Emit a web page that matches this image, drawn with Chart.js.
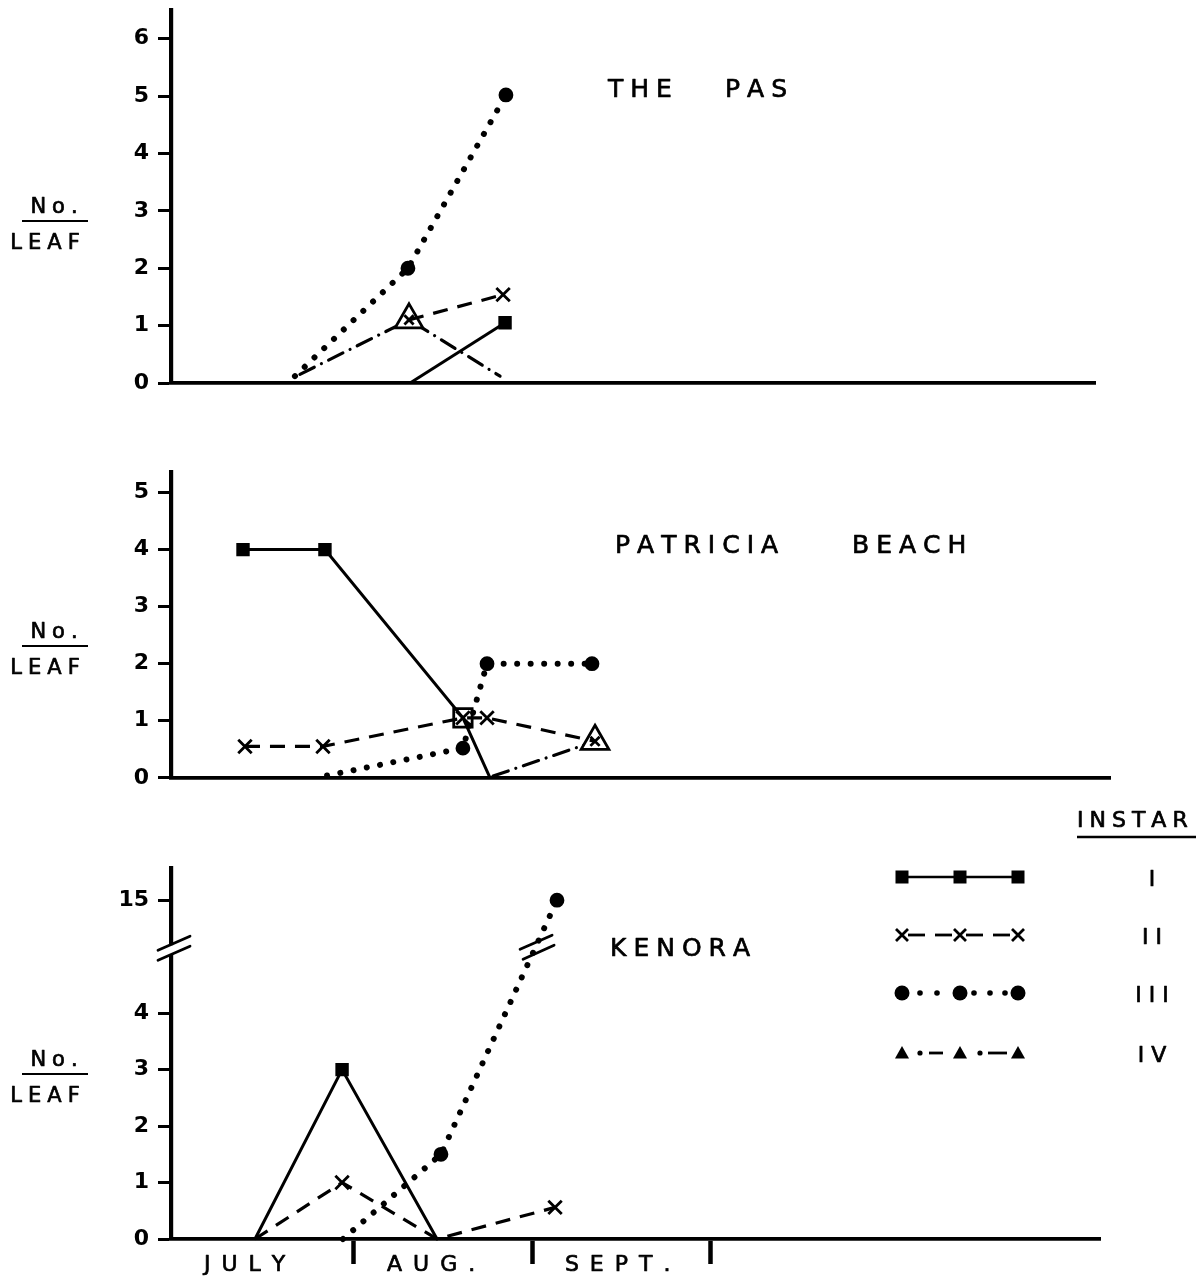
<!DOCTYPE html>
<html><head><meta charset="utf-8">
<script src="https://cdn.jsdelivr.net/npm/chart.js@4.4.1/dist/chart.umd.min.js"></script>
<style>
html,body{margin:0;padding:0;background:#fff;}
#wrap{position:relative;width:1201px;height:1278px;overflow:hidden;background:#fff;}
canvas{position:absolute;left:0;}
</style></head><body>
<div id="wrap">
<canvas id="c1" width="1201" height="450" style="top:-20px"></canvas>
<canvas id="c2" width="1201" height="360" style="top:440px"></canvas>
<canvas id="c3" width="1201" height="488" style="top:790px"></canvas>
</div>
<script>
// ---------------- DATA ----------------
const sites   = ['THE PAS', 'PATRICIA BEACH', 'KENORA'];
const months  = ['JULY', 'AUG.', 'SEPT.'];
const instars = ['I', 'II', 'III', 'IV'];
const yLabelTop = 'No.', yLabelBottom = 'LEAF';
const legendTitle = 'INSTAR';

const pasTicks = [0, 1, 2, 3, 4, 5, 6];
const patTicks = [0, 1, 2, 3, 4, 5];
const kenTicks = [0, 1, 2, 3, 4, 15];

// x = months after 1 July ; y = number per leaf
const pasI_x   = [1.317, 1.849];         const pasI_y   = [0, 1.05];
const pasII_x  = [1.311, 1.838];         const pasII_y  = [1.1, 1.54];
const pasIII_x = [0.672, 1.305, 1.854];  const pasIII_y = [0.12, 2.0, 5.02];
const pasIV_x  = [0.70, 1.311, 1.821];   const pasIV_y  = [0.15, 1.1, 0.12];

const patI_x   = [0.381, 0.840, 1.613, 1.765];         const patI_y   = [4, 4, 1.05, 0];
const patII_x  = [0.392, 0.829, 1.613, 1.748, 2.353];  const patII_y  = [0.55, 0.55, 1.05, 1.05, 0.64];
const patIII_x = [0.852, 1.613, 1.748, 2.336];         const patIII_y = [0.04, 0.52, 2.0, 2.0];
const patIV_x  = [1.782, 2.353];                       const patIV_y  = [0.03, 0.64];

const kenI_x   = [0.448, 0.936, 1.468];         const kenI_y   = [0, 3.0, 0];
const kenII_x  = [0.448, 0.936, 1.468, 2.129];  const kenII_y  = [0, 1.0, 0, 0.56];
const kenIII_x = [0.941, 1.490, 2.140];         const kenIII_y = [0, 1.5, 15];

// ---------------- STYLE ----------------
const FONT = '"DejaVu Sans", "Liberation Sans", sans-serif';
Chart.defaults.font.family = FONT;
Chart.defaults.color = '#000';

const M = {
  none:   {style: 'circle',   r: 0,   fill: '#000'},
  sq:     {style: 'rect',     r: 7.5, fill: '#000'},
  sqOpen: {style: 'rect',     r: 13,  fill: 'rgba(0,0,0,0)'},
  x:      {style: 'crossRot', r: 9.5, fill: '#000'},
  xs:     {style: 'crossRot', r: 6.5, fill: '#000'},
  dot:    {style: 'circle',   r: 6,   fill: '#000'},
  tri:    {style: 'triangle', r: 16,  fill: '#fff'}
};
const LINE = [
  {borderWidth: 3,   borderDash: []},
  {borderWidth: 3.2, borderDash: [15, 10]},
  {borderWidth: 6,   borderDash: [0.001, 13.5], borderCapStyle: 'round'},
  {borderWidth: 3.2, borderDash: [16, 8, 0.001, 8], borderCapStyle: 'round'}
];

function ds(k, xs, ys, marks, tf) {
  const f = tf || (v => v);
  return Object.assign({
    label: instars[k],
    data: xs.map((x, i) => ({x: x, y: f(ys[i])})),
    borderColor: '#000',
    pointStyle: marks.map(m => M[m].style),
    pointRadius: marks.map(m => M[m].r),
    pointBackgroundColor: marks.map(m => M[m].fill),
    pointBorderColor: '#000',
    pointBorderWidth: 2.8,
    pointHoverRadius: marks.map(m => M[m].r),
    tension: 0, fill: false, clip: false, spanGaps: true
  }, LINE[k]);
}

function spacedText(ctx, s, x, y, size, sp, align) {
  ctx.save();
  ctx.font = size + 'px ' + FONT;
  ctx.fillStyle = '#000';
  ctx.strokeStyle = '#000';
  ctx.lineWidth = 0.7;
  ctx.lineJoin = 'round';
  ctx.textBaseline = 'alphabetic';
  ctx.textAlign = 'left';
  const chars = [...s];
  const ws = chars.map(ch => ctx.measureText(ch).width);
  const w = ws.reduce((a, b) => a + b, 0) + sp * (chars.length - 1);
  let cx = align === 'center' ? x - w / 2 : align === 'right' ? x - w : x;
  chars.forEach((ch, i) => { ctx.fillText(ch, cx, y); ctx.strokeText(ch, cx, y); cx += ws[i] + sp; });
  ctx.restore();
}

function drawYLabel(ctx, lineY) {
  spacedText(ctx, yLabelTop, 54, lineY - 8, 21, 6, 'center');
  ctx.save(); ctx.strokeStyle = '#000'; ctx.lineWidth = 2.2;
  ctx.beginPath(); ctx.moveTo(22, lineY); ctx.lineTo(88, lineY); ctx.stroke(); ctx.restore();
  spacedText(ctx, yLabelBottom, 45, lineY + 28, 21, 6, 'center');
}

function drawTitle(ctx, title, xs, y) {
  title.split(' ').forEach((w, i) => spacedText(ctx, w, xs[i], y, 25, 7, 'left'));
}

function makeChart(id, o) {
  const H = document.getElementById(id).height;
  const tf = o.tf || (v => v);
  return new Chart(document.getElementById(id), {
    type: 'line',
    data: {datasets: o.datasets},
    options: {
      responsive: false, animation: false, events: [],
      layout: {padding: {left: 0, right: 1201 - o.right, top: o.top, bottom: 0}},
      plugins: {legend: {display: false}, tooltip: {enabled: false}},
      scales: {
        x: {
          type: 'linear', min: o.xmin, max: o.xmax,
          afterBuildTicks: s => { if (o.monthTicks) s.ticks = [1, 2, 3].map(v => ({value: v})); },
          ticks: {display: false},
          grid: o.monthTicks
            ? {display: true, drawOnChartArea: false, drawTicks: true, tickLength: 25, tickWidth: 4.5, tickColor: '#000'}
            : {display: false},
          border: {display: true, color: '#000', width: 3.8},
          afterFit: s => { s.height = H - o.bottom; }
        },
        y: {
          type: 'linear', min: 0, max: o.ymax,
          afterBuildTicks: s => { s.ticks = o.ticks.map(v => ({value: tf(v)})); },
          ticks: {font: {size: 22, family: FONT, weight: 'bold'}, color: '#000', padding: 9,
                  callback: (v, i) => String(o.ticks[i])},
          grid: {display: true, drawOnChartArea: false, drawTicks: true, tickLength: 13, tickWidth: 3, tickColor: '#000'},
          border: {display: true, color: '#000', width: 4.2},
          afterFit: s => { s.width = 171; }
        }
      }
    },
    plugins: [{id: 'deco_' + id, afterDraw: c => o.deco(c)}]
  });
}

// x pixel = 175 + 178.5 * month  ->  axis limits
// ---------------- THE PAS ----------------
makeChart('c1', {
  top: 30, bottom: 403, right: 1095, xmin: -0.0224, xmax: 5.154, ymax: 6.5, ticks: pasTicks,
  datasets: [
    ds(0, pasI_x, pasI_y, ['none', 'sq']),
    ds(1, pasII_x, pasII_y, ['xs', 'x']),
    ds(2, pasIII_x, pasIII_y, ['none', 'dot', 'dot']),
    ds(3, pasIV_x, pasIV_y, ['none', 'tri', 'none'])
  ],
  deco: c => {
    drawTitle(c.ctx, sites[0], [608, 725], 117);
    drawYLabel(c.ctx, 241);
  }
});

// ---------------- PATRICIA BEACH ----------------
makeChart('c2', {
  top: 32, bottom: 342, right: 1110, xmin: -0.0224, xmax: 5.238, ymax: 5.36, ticks: patTicks,
  datasets: [
    ds(0, patI_x, patI_y, ['sq', 'sq', 'sqOpen', 'none']),
    ds(1, patII_x, patII_y, ['x', 'x', 'x', 'x', 'xs']),
    ds(2, patIII_x, patIII_y, ['none', 'dot', 'dot', 'dot']),
    ds(3, patIV_x, patIV_y, ['none', 'tri'])
  ],
  deco: c => {
    drawTitle(c.ctx, sites[1], [615, 852], 113);
    drawYLabel(c.ctx, 206);
  }
});

// ---------------- KENORA ----------------
const kenTf = v => (v > 5 ? v - 9 : v);   // broken axis: 15 drawn one step above 5
const BREAK = 5.15;
makeChart('c3', {
  top: 78, bottom: 449, right: 1100, xmin: -0.0224, xmax: 5.182, ymax: 6.57, ticks: kenTicks, tf: kenTf,
  monthTicks: true,
  datasets: [
    ds(0, kenI_x, kenI_y, ['none', 'sq', 'none'], kenTf),
    ds(1, kenII_x, kenII_y, ['none', 'x', 'none', 'x'], kenTf),
    ds(2, kenIII_x, kenIII_y, ['none', 'dot', 'dot'], kenTf)
  ],
  deco: c => {
    const ctx = c.ctx, xs = c.scales.x, ys = c.scales.y;
    drawTitle(ctx, sites[2], [610], 166);
    drawYLabel(ctx, 284);
    // month labels (centred a little left of mid-month, drifting right as in the original lettering)
    months.forEach((m, i) => spacedText(ctx, m, xs.getPixelForValue(i + 0.39 + 0.045 * i), 481, 22, 11, 'center'));
    // axis break
    const ax = c.chartArea.left, by = ys.getPixelForValue(BREAK);
    ctx.save();
    ctx.fillStyle = '#fff'; ctx.fillRect(ax - 4, by - 3, 8, 9);
    ctx.strokeStyle = '#000'; ctx.lineWidth = 2.8; ctx.lineCap = 'round';
    ctx.beginPath();
    ctx.moveTo(ax - 13, by + 2); ctx.lineTo(ax + 19, by - 12);
    ctx.moveTo(ax - 13, by + 12); ctx.lineTo(ax + 19, by - 2);
    ctx.stroke();
    // break on the instar III line
    const n = kenIII_y.length;
    const d1 = kenTf(kenIII_y[n - 2]), d2 = kenTf(kenIII_y[n - 1]);
    const t = (BREAK - d1) / (d2 - d1);
    const bx = xs.getPixelForValue(kenIII_x[n - 2] + t * (kenIII_x[n - 1] - kenIII_x[n - 2]));
    const by2 = ys.getPixelForValue(BREAK);
    ctx.beginPath();
    ctx.moveTo(bx - 15, by2 + 1); ctx.lineTo(bx + 17, by2 - 13);
    ctx.moveTo(bx - 12, by2 + 11); ctx.lineTo(bx + 19, by2 - 3);
    ctx.stroke();
    ctx.restore();

    // legend
    const LX = [902, 960, 1018], LY = [87, 145, 203, 263];
    spacedText(ctx, legendTitle, 1077, 37, 22, 6, 'left');
    ctx.save();
    ctx.strokeStyle = '#000'; ctx.fillStyle = '#000'; ctx.lineWidth = 2.5;
    ctx.beginPath(); ctx.moveTo(1077, 47); ctx.lineTo(1196, 47); ctx.stroke();
    // I
    ctx.beginPath(); ctx.moveTo(LX[0], LY[0]); ctx.lineTo(LX[2], LY[0]); ctx.stroke();
    LX.forEach(x => ctx.fillRect(x - 6.5, LY[0] - 6.5, 13, 13));
    // II
    ctx.lineWidth = 2.8;
    [[908, 925], [935, 952], [966, 983], [993, 1010]].forEach(s => {
      ctx.beginPath(); ctx.moveTo(s[0], LY[1]); ctx.lineTo(s[1], LY[1]); ctx.stroke();
    });
    LX.forEach(x => {
      ctx.beginPath(); ctx.moveTo(x - 6, LY[1] - 6); ctx.lineTo(x + 6, LY[1] + 6);
      ctx.moveTo(x - 6, LY[1] + 6); ctx.lineTo(x + 6, LY[1] - 6); ctx.stroke();
    });
    // III
    LX.forEach(x => { ctx.beginPath(); ctx.arc(x, LY[2], 7.5, 0, Math.PI * 2); ctx.fill(); });
    [920, 937, 974, 990, 1005].forEach(x => { ctx.beginPath(); ctx.arc(x, LY[2], 2.8, 0, Math.PI * 2); ctx.fill(); });
    // IV
    LX.forEach(x => {
      ctx.beginPath(); ctx.moveTo(x, LY[3] - 7); ctx.lineTo(x + 7, LY[3] + 5.5); ctx.lineTo(x - 7, LY[3] + 5.5);
      ctx.closePath(); ctx.fill();
    });
    [920, 980].forEach(x => { ctx.beginPath(); ctx.arc(x, LY[3], 2.6, 0, Math.PI * 2); ctx.fill(); });
    [[929, 943], [988, 1007]].forEach(s => {
      ctx.beginPath(); ctx.moveTo(s[0], LY[3]); ctx.lineTo(s[1], LY[3]); ctx.stroke();
    });
    ctx.restore();
    instars.forEach((r, i) => spacedText(ctx, r, 1152, LY[i] + 9, 22, 7, 'center'));
  }
});
</script>
</body></html>
